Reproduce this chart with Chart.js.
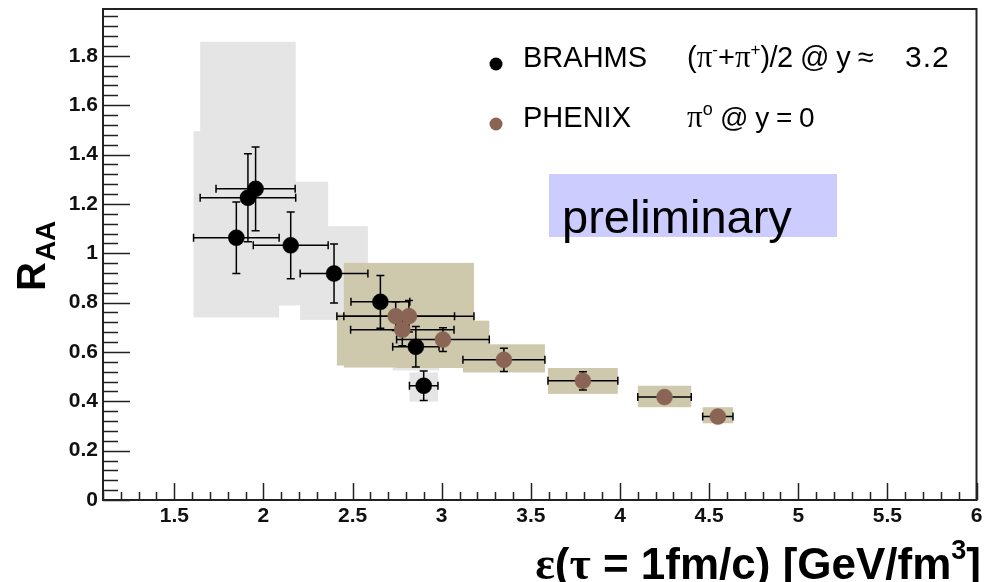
<!DOCTYPE html>
<html>
<head>
<meta charset="utf-8">
<script src="https://cdn.jsdelivr.net/npm/chart.js@4.4.1/dist/chart.umd.min.js"></script>
<style>
  html, body { margin: 0; padding: 0; background: #fff; }
</style>
</head>
<body>
<canvas id="chart" width="985" height="582"></canvas>
<script>
// tick labels
const xTicks = [1.5, 2, 2.5, 3, 3.5, 4, 4.5, 5, 5.5, 6];
const yTicks = [0, 0.2, 0.4, 0.6, 0.8, 1, 1.2, 1.4, 1.6, 1.8];

// BRAHMS (pi- + pi+)/2 at y ~ 3.2
const brahmsEps    = [1.848, 1.913, 1.956, 2.153, 2.396, 2.656, 2.855, 2.899];
const brahmsRaa    = [1.063, 1.225, 1.261, 1.032, 0.918, 0.803, 0.621, 0.463];
const brahmsEpsErr = [0.240, 0.268, 0.222, 0.210, 0.190, 0.165, 0.130, 0.080];
const brahmsRaaErr = [0.145, 0.178, 0.170, 0.135, 0.120, 0.107, 0.082, 0.060];
const brahmsSysLo  = [0.740, 0.800, 0.789, 0.789, 0.730, 0.680, 0.525, 0.399];
const brahmsSysHi  = [1.495, 1.857, 1.840, 1.290, 1.110, 0.930, 0.717, 0.517];

// PHENIX pi0 at y = 0
const phenixEps    = [2.742, 2.816, 2.779, 3.007, 3.349, 3.792, 4.250, 4.549];
const phenixRaa    = [0.745, 0.745, 0.690, 0.650, 0.568, 0.483, 0.417, 0.338];
const phenixEpsErr = [0.330, 0.365, 0.290, 0.260, 0.230, 0.196, 0.150, 0.085];
const phenixRaaErr = [0.058, 0.064, 0.065, 0.048, 0.047, 0.037, 0.022, 0.016];
const phenixSysLo  = [0.545, 0.537, 0.560, 0.535, 0.517, 0.430, 0.376, 0.311];
const phenixSysHi  = [0.755, 0.961, 0.820, 0.727, 0.631, 0.535, 0.463, 0.376];

const SANS = '"Liberation Sans", Arial, Helvetica, sans-serif';
const SERIF = '"Liberation Serif", "DejaVu Serif", serif';

const BRAHMS_COLOR = '#000000';
const PHENIX_COLOR = '#8a6454';

const series = [
    { eps: brahmsEps, raa: brahmsRaa, ex: brahmsEpsErr, ey: brahmsRaaErr, lo: brahmsSysLo, hi: brahmsSysHi, box: '#e5e5e5' },
    { eps: phenixEps, raa: phenixRaa, ex: phenixEpsErr, ey: phenixRaaErr, lo: phenixSysLo, hi: phenixSysHi, box: '#cec8ac' }
];

// draws a run of text pieces with mixed fonts, returns end x
function drawPieces(ctx, pieces, x, y, measureOnly) {
    let cx = x;
    pieces.forEach(p => {
        ctx.font = p.f;
        ctx.letterSpacing = p.ls || '0px';
        if (p.x !== undefined) cx = p.x;
        if (!measureOnly) {
            ctx.fillText(p.t, cx, y + (p.dy || 0));
        }
        cx += ctx.measureText(p.t).width;
    });
    ctx.letterSpacing = '0px';
    return cx;
}

// no label overhang padding, the frame is placed by the layout padding only
function fixScale(s, key, size) {
    s[key] = size;
    s.paddingTop = 0;
    s.paddingBottom = 0;
    s.paddingLeft = 0;
    s.paddingRight = 0;
}

const rootStyle = {
    id: 'rootStyle',
    beforeDatasetsDraw(chart) {
        const ctx = chart.ctx;
        const area = chart.chartArea;
        const xs = chart.scales.x;
        const ys = chart.scales.y;

        ctx.save();
        ctx.beginPath();
        ctx.rect(area.left, area.top, area.right - area.left, area.bottom - area.top);
        ctx.clip();

        // systematic error boxes
        series.forEach(s => {
            ctx.fillStyle = s.box;
            s.eps.forEach((x, i) => {
                const x0 = xs.getPixelForValue(x - s.ex[i]);
                const x1 = xs.getPixelForValue(x + s.ex[i]);
                const y0 = ys.getPixelForValue(s.hi[i]);
                const y1 = ys.getPixelForValue(s.lo[i]);
                ctx.fillRect(x0, y0, x1 - x0, y1 - y0);
            });
        });

        // preliminary label
        ctx.fillStyle = '#ccccff';
        ctx.fillRect(549, 174, 288, 63);
        ctx.fillStyle = '#000';
        ctx.font = '47px ' + SANS;
        ctx.textBaseline = 'alphabetic';
        ctx.textAlign = 'left';
        ctx.fillText('preliminary', 562, 233);

        // statistical error bars
        ctx.strokeStyle = '#000';
        ctx.lineWidth = 1.5;
        const cap = 4;
        series.forEach(s => {
            s.eps.forEach((x, i) => {
                const px = xs.getPixelForValue(x);
                const py = ys.getPixelForValue(s.raa[i]);
                const xl = xs.getPixelForValue(x - s.ex[i]);
                const xr = xs.getPixelForValue(x + s.ex[i]);
                const yt = ys.getPixelForValue(s.raa[i] + s.ey[i]);
                const yb = ys.getPixelForValue(s.raa[i] - s.ey[i]);
                ctx.beginPath();
                ctx.moveTo(xl, py); ctx.lineTo(xr, py);
                ctx.moveTo(xl, py - cap); ctx.lineTo(xl, py + cap);
                ctx.moveTo(xr, py - cap); ctx.lineTo(xr, py + cap);
                ctx.moveTo(px, yt); ctx.lineTo(px, yb);
                ctx.moveTo(px - cap, yt); ctx.lineTo(px + cap, yt);
                ctx.moveTo(px - cap, yb); ctx.lineTo(px + cap, yb);
                ctx.stroke();
            });
        });
        ctx.restore();
    },
    afterDraw(chart) {
        const ctx = chart.ctx;
        const area = chart.chartArea;
        const xs = chart.scales.x;
        const ys = chart.scales.y;

        ctx.save();
        ctx.strokeStyle = '#222';

        // inside ticks, ROOT style
        ctx.lineWidth = 1.5;
        ctx.beginPath();
        for (let k = 0; ; k++) {
            const v = +(xs.min + k * 0.1).toFixed(2);
            if (v > xs.max + 1e-6) break;
            const major = xTicks.some(t => Math.abs(t - v) < 1e-6);
            const px = Math.round(xs.getPixelForValue(v)) + 0.5;
            ctx.moveTo(px, area.bottom);
            ctx.lineTo(px, area.bottom - (major ? 17 : 8));
        }
        for (let k = 0; ; k++) {
            const v = +(ys.min + k * 0.04).toFixed(2);
            if (v > ys.max + 1e-6) break;
            const major = yTicks.some(t => Math.abs(t - v) < 1e-6);
            const py = Math.round(ys.getPixelForValue(v)) + 0.5;
            ctx.moveTo(area.left, py);
            ctx.lineTo(area.left + (major ? 27 : 15), py);
        }
        ctx.stroke();

        // frame
        ctx.lineWidth = 2;
        ctx.strokeRect(area.left, area.top, area.right - area.left, area.bottom - area.top);

        // legend
        ctx.fillStyle = '#000';
        ctx.textBaseline = 'alphabetic';
        ctx.textAlign = 'left';
        const legendRows = [
            { color: chart.data.datasets[0].backgroundColor, dotY: 64, base: 67, name: 'BRAHMS', rest: [
                { t: '(', f: '29px ' + SANS },
                { t: 'π', f: '31px ' + SERIF },
                { t: '-', f: '17px ' + SANS, dy: -12 },
                { t: '+', f: '29px ' + SANS },
                { t: 'π', f: '31px ' + SERIF },
                { t: '+', f: '17px ' + SANS, dy: -12 },
                { t: ')/2 @ y ≈', f: '29px ' + SANS, ls: '-0.6px' },
                { t: '3.2', f: '30px ' + SANS, ls: '1px', x: 905 }
            ] },
            { color: chart.data.datasets[1].backgroundColor, dotY: 124, base: 127, name: 'PHENIX', rest: [
                { t: 'π', f: '31px ' + SERIF },
                { t: 'o', f: '18px ' + SANS, dy: -12 },
                { t: ' @ y = 0', f: '28px ' + SANS, ls: '-0.5px' }
            ] }
        ];
        legendRows.forEach(r => {
            ctx.fillStyle = r.color;
            ctx.beginPath();
            ctx.arc(496, r.dotY, 6.5, 0, Math.PI * 2);
            ctx.fill();
            ctx.fillStyle = '#000';
            ctx.font = '29px ' + SANS;
            ctx.fillText(r.name, 523, r.base);
            drawPieces(ctx, r.rest, 687, r.base);
        });

        // x axis title, right aligned
        const xTitle = [
            { t: 'ε', f: 'bold 46px ' + SERIF },
            { t: '(', f: 'bold 44px ' + SANS },
            { t: 'τ', f: 'bold 46px ' + SERIF },
            { t: ' = 1fm/c) [GeV/fm', f: 'bold 44px ' + SANS },
            { t: '3', f: 'bold 27px ' + SANS, dy: -20 },
            { t: ']', f: 'bold 44px ' + SANS }
        ];
        const w = drawPieces(ctx, xTitle, 0, 0, true);
        drawPieces(ctx, xTitle, 981 - w, 579);

        // y axis title, rotated
        ctx.translate(45, 291);
        ctx.rotate(-Math.PI / 2);
        ctx.font = 'bold 40px ' + SANS;
        ctx.fillText('R', 0, 0);
        const rw = ctx.measureText('R').width;
        ctx.font = 'bold 28px ' + SANS;
        ctx.fillText('AA', rw + 1, 10);
        ctx.restore();
    }
};

const tickFont = { family: SANS, size: 21, weight: 'bold' };

new Chart(document.getElementById('chart'), {
    type: 'scatter',
    data: {
        datasets: [
            {
                label: 'BRAHMS',
                data: brahmsEps.map((x, i) => ({ x: x, y: brahmsRaa[i] })),
                backgroundColor: BRAHMS_COLOR,
                borderColor: BRAHMS_COLOR,
                pointRadius: 8,
                borderWidth: 0.5
            },
            {
                label: 'PHENIX',
                data: phenixEps.map((x, i) => ({ x: x, y: phenixRaa[i] })),
                backgroundColor: PHENIX_COLOR,
                borderColor: PHENIX_COLOR,
                pointRadius: 8,
                borderWidth: 0.5
            }
        ]
    },
    options: {
        responsive: false,
        animation: false,
        events: [],
        layout: { padding: { top: 9, right: 8, left: 0, bottom: 0 } },
        plugins: {
            legend: { display: false },
            tooltip: { enabled: false }
        },
        scales: {
            x: {
                type: 'linear',
                min: 1.1,
                max: 6,
                grid: { display: false, drawTicks: false },
                border: { display: false },
                afterBuildTicks: s => { s.ticks = xTicks.map(v => ({ value: v })); },
                afterFit: s => fixScale(s, 'height', 82),
                ticks: {
                    font: tickFont,
                    color: '#111',
                    padding: 4,
                    autoSkip: false,
                    maxRotation: 0,
                    callback: v => String(v)
                }
            },
            y: {
                type: 'linear',
                min: 0,
                max: 1.99,
                grid: { display: false, drawTicks: false },
                border: { display: false },
                afterBuildTicks: s => { s.ticks = yTicks.map(v => ({ value: v })); },
                afterFit: s => fixScale(s, 'width', 103),
                ticks: {
                    font: tickFont,
                    color: '#111',
                    padding: 5,
                    autoSkip: false,
                    callback: v => String(v)
                }
            }
        }
    },
    plugins: [rootStyle]
});
</script>
</body>
</html>
